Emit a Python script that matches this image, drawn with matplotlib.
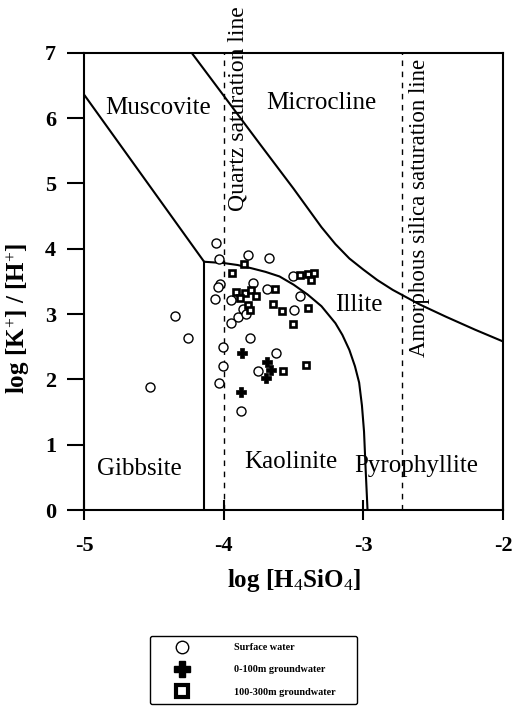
import matplotlib
matplotlib.use("Agg")
import matplotlib.pyplot as plt
from matplotlib.lines import Line2D

plt.rcParams['font.family'] = ['Liberation Serif', 'DejaVu Serif']
plt.rcParams['mathtext.fontset'] = 'custom'
plt.rcParams['mathtext.rm'] = 'Liberation Serif'
plt.rcParams['mathtext.it'] = 'Liberation Serif:italic'
plt.rcParams['mathtext.bf'] = 'Liberation Serif:bold'
plt.rcParams['axes.unicode_minus'] = False

# ---------------- data ----------------
x_ticks = [-5, -4, -3, -2]
x_tick_labels = ['-5', '-4', '-3', '-2']
y_ticks = [0, 1, 2, 3, 4, 5, 6, 7]

# stability field boundaries (log H4SiO4, log K/H)
musc_gibb_x = [-5.0, -4.14]
musc_gibb_y = [6.36, 3.80]
gibb_kaol_x = [-4.14, -4.14]
gibb_kaol_y = [3.80, 0.0]
kaol_ill_x = [-4.14, -4.0, -3.9, -3.8, -3.7, -3.6, -3.5, -3.4, -3.3, -3.2, -3.15,
              -3.10, -3.06, -3.03, -3.01, -2.995, -2.983, -2.97]
kaol_ill_y = [3.80, 3.78, 3.75, 3.70, 3.645, 3.575, 3.45, 3.30, 3.12, 2.86, 2.68,
              2.45, 2.20, 1.95, 1.60, 1.20, 0.60, 0.0]
micro_x = [-4.23, -3.74, -3.50, -3.30, -3.20, -3.10, -3.00, -2.90, -2.79, -2.60, -2.41, -2.20, -2.0]
micro_y = [7.0, 5.60, 4.92, 4.33, 4.07, 3.85, 3.68, 3.52, 3.37, 3.15, 2.96, 2.76, 2.58]

quartz_sat = -4.0
amorph_sat = -2.72

# surface water
sw_x = [-4.057, -4.034, -3.826, -3.676, -4.029, -4.041, -4.064, -3.945, -3.791,
        -3.864, -3.898, -3.945, -3.838, -4.35, -4.255, -3.814, -3.689, -3.505,
        -3.457, -3.493, -4.005, -3.624, -4.005, -3.755, -4.034, -3.874, -4.529]
sw_y = [4.08, 3.84, 3.91, 3.86, 3.46, 3.41, 3.23, 3.21, 3.48,
        3.07, 2.95, 2.87, 3.00, 2.97, 2.63, 2.63, 3.38, 3.58,
        3.27, 3.06, 2.49, 2.41, 2.21, 2.13, 1.94, 1.51, 1.88]

# 0-100 m groundwater
gw1_x = [-3.866, -3.691, -3.659, -3.695, -3.874]
gw1_y = [2.41, 2.27, 2.15, 2.02, 1.80]

# 100-300 m groundwater
gw2_x = [-3.857, -3.941, -3.909, -3.85, -3.802, -3.766, -3.825, -3.814, -3.886,
         -3.636, -3.648, -3.582, -3.505, -3.393, -3.457, -3.398, -3.35, -3.374,
         -3.576, -3.409]
gw2_y = [3.77, 3.63, 3.34, 3.32, 3.36, 3.28, 3.14, 3.06, 3.25,
         3.38, 3.15, 3.05, 2.84, 3.09, 3.60, 3.61, 3.63, 3.52,
         2.13, 2.22]

field_labels = ['Muscovite', 'Microcline', 'Illite', 'Gibbsite', 'Kaolinite', 'Pyrophyllite']
field_x = [-4.47, -3.30, -3.03, -4.60, -3.52, -2.62]
field_y = [6.16, 6.23, 3.14, 0.63, 0.73, 0.67]

legend_labels = ['Surface water', '0-100m groundwater', '100-300m groundwater']

# ---------------- figure ----------------
W, H = 512, 711
fig = plt.figure(figsize=(W / 100, H / 100), dpi=100)
ax = fig.add_axes([84 / W, 1 - 510 / H, (503 - 84) / W, (510 - 52.7) / H])

lw = 1.5
ax.plot(musc_gibb_x, musc_gibb_y, color='black', lw=lw)
ax.plot(gibb_kaol_x, gibb_kaol_y, color='black', lw=lw)
ax.plot(kaol_ill_x, kaol_ill_y, color='black', lw=lw)
ax.plot(micro_x, micro_y, color='black', lw=lw)
ax.axvline(quartz_sat, color='black', lw=1.0, ls=(0, (4, 4)))
ax.axvline(amorph_sat, color='black', lw=1.0, ls=(0, (4, 4)))

ax.plot(sw_x, sw_y, ls='none', marker='o', ms=6.5, mfc='white', mec='black', mew=1.0, zorder=3)
ax.plot(gw2_x, gw2_y, ls='none', marker='s', ms=4.6, mfc='white', mec='black', mew=1.9, zorder=4)
ax.plot(gw1_x, gw1_y, ls='none', marker='P', ms=7, mfc='black', mec='black', mew=0.5, zorder=5)

for lab, xx, yy in zip(field_labels, field_x, field_y):
    ax.text(xx, yy, lab, fontsize=18, ha='center', va='center')

ax.text(-3.895, 6.14, 'Quartz saturation line', rotation=90, fontsize=17,
        ha='center', va='center')
ax.text(-2.60, 4.62, 'Amorphous silica saturation line', rotation=90, fontsize=16.5,
        ha='center', va='center')

ax.set_xlim(-5, -2)
ax.set_ylim(0, 7)
ax.set_xticks(x_ticks)
ax.set_xticklabels(x_tick_labels)
ax.set_yticks(y_ticks)
for lbl in ax.get_xticklabels() + ax.get_yticklabels():
    lbl.set_fontweight('bold')
    lbl.set_fontsize(16)
ax.tick_params(axis='x', direction='inout', length=14, width=1.5, pad=12)
ax.tick_params(axis='y', direction='out', length=12, width=1.5, pad=8)
for s in ax.spines.values():
    s.set_linewidth(1.5)

ax.set_xlabel(r'log [H$_4$SiO$_4$]', fontsize=18, fontweight='bold')
ax.set_ylabel(r'log [K$^{+}$] / [H$^{+}$]', fontsize=18, fontweight='bold')
ax.xaxis.set_label_coords(0.5, -0.125)
ax.yaxis.set_label_coords(-0.124, 0.42)

handles = [
    Line2D([], [], ls='none', marker='o', ms=9, mfc='white', mec='black', mew=1.0),
    Line2D([], [], ls='none', marker='P', ms=11, mfc='black', mec='black'),
    Line2D([], [], ls='none', marker='s', ms=8, mfc='white', mec='black', mew=3),
]
leg = fig.legend(handles, legend_labels, loc='upper left',
                 bbox_to_anchor=(150 / W, 1 - 636 / H, 207 / W, 0.0), mode='expand',
                 borderaxespad=0, borderpad=0.7, handlelength=5.0, handletextpad=2.6,
                 labelspacing=1.3, fancybox=True, edgecolor='black', framealpha=1,
                 prop={'family': 'Liberation Serif', 'size': 7.3, 'weight': 'bold'})
leg.get_frame().set_linewidth(1.0)

fig.savefig('out.png', dpi=100)
